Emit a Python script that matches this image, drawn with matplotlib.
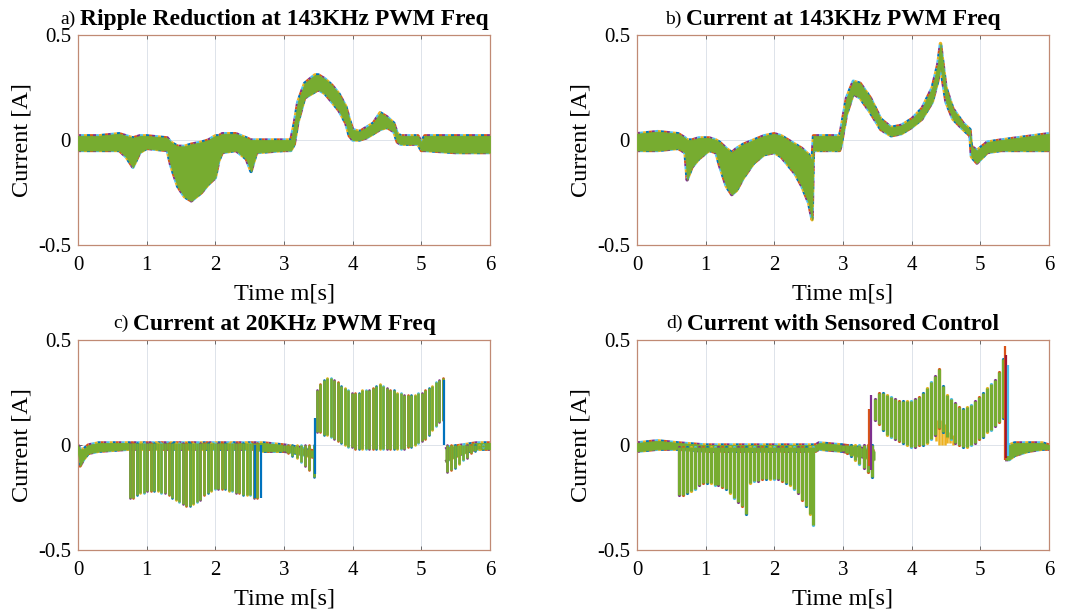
import numpy as np
import matplotlib
matplotlib.use("Agg")
import matplotlib.pyplot as plt

plt.rcParams['font.family'] = ['Liberation Serif', 'DejaVu Serif']

# MATLAB default line colours
BLUE = '#0072BD'
ORANGE = '#D95319'
YELLOW = '#EDB120'
PURPLE = '#7E2F8E'
GREEN = '#77AC30'
LBLUE = '#4DBEEE'
RED = '#A2142F'
FRINGE = [PURPLE, ORANGE, BLUE, YELLOW, LBLUE]

prefixes = ['a)', 'b)', 'c)', 'd)']
titles = ['Ripple Reduction at 143KHz PWM Freq', 'Current at 143KHz PWM Freq',
          'Current at 20KHz PWM Freq', 'Current with Sensored Control']
x_ticks = [0, 1, 2, 3, 4, 5, 6]
y_ticks = [-0.5, 0, 0.5]
y_tick_labels = ['-0.5', '0', '0.5']

# ---- panel a : envelope of the overlaid traces ----
a_t = [0, 0.3, 0.6, 0.7, 0.8, 0.9, 1.0, 1.3, 1.35, 1.45, 1.55, 1.65, 1.8, 1.9, 2.0, 2.05,
       2.1, 2.3, 2.45, 2.52, 2.6, 3.0, 3.1, 3.15, 3.2, 3.3, 3.45, 3.5, 3.6, 3.7, 3.8, 3.9,
       3.95, 4.0, 4.1, 4.2, 4.3, 4.4, 4.5, 4.6, 4.65, 4.7, 4.95, 5.0, 5.05, 5.5, 6.0]
a_hi = [0.02, 0.02, 0.03, 0.02, 0.01, 0.02, 0.02, 0.01, -0.01, -0.03, -0.03, -0.02, -0.01, 0.0,
        0.02, 0.02, 0.03, 0.03, 0.01, 0.0, 0.0, 0.0, 0.0, 0.08, 0.18, 0.27, 0.31, 0.31, 0.29,
        0.26, 0.22, 0.16, 0.10, 0.05, 0.04, 0.06, 0.08, 0.13, 0.11, 0.08, 0.03, 0.02, 0.02,
        -0.01, 0.02, 0.02, 0.02]
a_lo = [-0.05, -0.05, -0.05, -0.08, -0.13, -0.06, -0.04, -0.05, -0.12, -0.22, -0.27, -0.29,
        -0.25, -0.21, -0.18, -0.10, -0.06, -0.05, -0.09, -0.15, -0.06, -0.05, -0.05, -0.02,
        0.08, 0.20, 0.23, 0.24, 0.22, 0.18, 0.14, 0.08, 0.02, 0.0, 0.0, 0.01, 0.03, 0.05,
        0.06, 0.04, -0.01, -0.02, -0.02, -0.05, -0.05, -0.06, -0.06]

# ---- panel b ----
b_t = [0, 0.3, 0.6, 0.7, 0.73, 0.8, 0.9, 1.05, 1.15, 1.2, 1.3, 1.38, 1.45, 1.55, 1.7, 1.85,
       2.0, 2.1, 2.2, 2.3, 2.4, 2.5, 2.55, 2.57, 2.65, 2.95, 2.97, 3.05, 3.15, 3.25, 3.4,
       3.55, 3.7, 3.85, 4.0, 4.15, 4.3, 4.38, 4.42, 4.5, 4.6, 4.75, 4.85, 4.87, 4.95, 5.1,
       5.3, 6.0]
b_hi = [0.03, 0.04, 0.03, 0.01, 0.0, 0.0, 0.01, 0.01, 0.0, -0.01, -0.04, -0.06, -0.04, -0.02,
        0.0, 0.02, 0.03, 0.02, 0.0, -0.02, -0.04, -0.07, -0.10, 0.02, 0.02, 0.02, 0.05, 0.20,
        0.28, 0.27, 0.20, 0.10, 0.06, 0.07, 0.10, 0.15, 0.25, 0.36, 0.46, 0.25, 0.15, 0.08,
        0.05, -0.03, -0.05, -0.01, 0.0, 0.03]
b_lo = [-0.05, -0.05, -0.04, -0.06, -0.19, -0.13, -0.09, -0.05, -0.06, -0.12, -0.22, -0.26,
        -0.24, -0.18, -0.11, -0.07, -0.06, -0.08, -0.12, -0.16, -0.22, -0.30, -0.38, -0.05,
        -0.05, -0.05, -0.03, 0.12, 0.22, 0.20, 0.13, 0.05, 0.02, 0.03, 0.06, 0.10, 0.18,
        0.28, 0.35, 0.18, 0.10, 0.05, 0.02, -0.08, -0.11, -0.06, -0.05, -0.05]

# ---- panel c : 20 kHz ripple ----
c_band1_t = [0, 0.03, 0.08, 0.15, 0.3, 0.75, 1.5, 2.6, 2.7, 3.0, 3.2, 3.45]
c_band1_hi = [0.0, -0.02, -0.02, 0.0, 0.01, 0.01, 0.01, 0.01, 0.01, 0.0, -0.01, -0.03]
c_band1_lo = [-0.04, -0.10, -0.07, -0.04, -0.03, -0.02, -0.02, -0.02, -0.03, -0.03, -0.04, -0.06]
c_band2_t = [5.35, 5.4, 5.6, 5.8, 6.0]
c_band2_hi = [-0.02, -0.01, 0.0, 0.01, 0.01]
c_band2_lo = [-0.08, -0.07, -0.04, -0.02, -0.02]

c_neg_span = (0.75, 2.61)
c_neg_top = 0.01
c_neg_tip = [-0.25, -0.25, -0.24, -0.23, -0.23, -0.22, -0.22, -0.22, -0.22, -0.23,
             -0.23, -0.24, -0.25, -0.26, -0.27, -0.28, -0.29, -0.29, -0.28, -0.27,
             -0.26, -0.24, -0.23, -0.22, -0.21, -0.21, -0.21, -0.21, -0.22, -0.22,
             -0.23, -0.23, -0.24, -0.24, -0.24, -0.25, -0.25]
c_droop_span = (3.0, 3.43)
c_droop_top = 0.0
c_droop_tip = [-0.03, -0.04, -0.05, -0.06, -0.08, -0.10, -0.12, -0.15]
c_pos_span = (3.48, 5.31)
c_pos_hi = [0.26, 0.29, 0.31, 0.32, 0.32, 0.31, 0.30, 0.28, 0.27, 0.26,
            0.25, 0.25, 0.25, 0.26, 0.26, 0.26, 0.27, 0.28, 0.29, 0.28,
            0.27, 0.26, 0.26, 0.25, 0.25, 0.24, 0.24, 0.24, 0.24, 0.25,
            0.25, 0.26, 0.27, 0.28, 0.30, 0.31, 0.32]
c_pos_lo = [0.06, 0.06, 0.05, 0.05, 0.04, 0.03, 0.02, 0.01, 0.0, -0.01,
            -0.01, -0.02, -0.02, -0.02, -0.02, -0.02, -0.02, -0.02, -0.02, -0.02,
            -0.02, -0.02, -0.02, -0.02, -0.02, -0.02, -0.01, -0.01, 0.0, 0.01,
            0.02, 0.03, 0.05, 0.07, 0.09, 0.11, 0.12]
c_decay_span = (5.37, 5.9)
c_decay_top = 0.0
c_decay_tip = [-0.13, -0.12, -0.11, -0.09, -0.07, -0.06, -0.04, -0.03, -0.02, -0.01]
c_extra_t = [2.58, 2.66, 3.45, 5.33]
c_extra_lo = [-0.25, -0.25, -0.14, 0.0]
c_extra_hi = [0.0, 0.0, 0.13, 0.31]

# ---- panel d : sensored control ----
d_band1_t = [0, 0.3, 0.6, 1.0, 2.6, 2.65, 3.0, 3.2, 3.46]
d_band1_hi = [0.01, 0.02, 0.01, 0.0, 0.0, 0.01, 0.0, -0.01, -0.03]
d_band1_lo = [-0.03, -0.02, -0.02, -0.03, -0.03, -0.02, -0.03, -0.05, -0.07]
d_band2_t = [5.36, 5.42, 5.5, 5.7, 5.9, 6.0]
d_band2_hi = [-0.01, 0.0, 0.01, 0.01, 0.01, 0.0]
d_band2_lo = [-0.07, -0.07, -0.05, -0.03, -0.02, -0.02]

d_neg_span = (0.61, 2.57)
d_neg_top = -0.01
d_neg_tip = [-0.24, -0.24, -0.23, -0.22, -0.21, -0.19, -0.18, -0.18, -0.18, -0.19, -0.19,
             -0.20, -0.21, -0.23, -0.25, -0.27, -0.29, -0.33, -0.18, -0.17, -0.17, -0.16,
             -0.16, -0.16, -0.16, -0.16, -0.17, -0.18, -0.19, -0.21, -0.23, -0.26, -0.29,
             -0.33, -0.38]
d_droop_span = (3.0, 3.42)
d_droop_top = 0.0
d_droop_tip = [-0.03, -0.04, -0.05, -0.07, -0.09, -0.11, -0.13, -0.15]
d_pos_span = (3.47, 5.33)
d_pos_hi = [0.22, 0.25, 0.25, 0.24, 0.23, 0.22, 0.21, 0.21, 0.21, 0.21, 0.22, 0.23, 0.25,
            0.27, 0.30, 0.33, 0.36, 0.28, 0.24, 0.22, 0.20, 0.18, 0.17, 0.18, 0.19, 0.21,
            0.23, 0.25, 0.27, 0.29, 0.31, 0.35, 0.41]
d_pos_lo = [0.12, 0.10, 0.07, 0.05, 0.04, 0.03, 0.02, 0.01, 0.0, -0.01, -0.01, 0.0, 0.0,
            0.01, 0.03, 0.05, 0.08, 0.06, 0.04, 0.03, 0.01, 0.0, -0.01, -0.01, 0.0, 0.01,
            0.03, 0.04, 0.06, 0.07, 0.09, 0.11, 0.13]
d_extra_t = [3.38, 3.41, 5.36, 5.38, 5.40]
d_extra_lo = [-0.10, -0.12, -0.07, -0.06, -0.05]
d_extra_hi = [0.17, 0.24, 0.47, 0.43, 0.38]
d_yellow_t = [4.36, 4.40, 4.44, 4.48, 4.52, 4.56, 4.60]
d_yellow_lo = [0.02, 0.0, 0.0, 0.0, 0.01, 0.01, 0.0]
d_yellow_hi = [0.12, 0.15, 0.12, 0.10, 0.08, 0.06, 0.05]


def draw_band(ax, t, hi, lo):
    # coloured fringes of the underlying traces, green trace on top
    for i, c in enumerate(FRINGE):
        for y in (hi, lo):
            ax.plot(t, y, color=c, lw=2.4, linestyle=(i * 0.9, (0.9, 3.6)),
                    dash_capstyle='butt', zorder=2)
    ax.fill_between(t, lo, hi, color=GREEN, lw=0.6, edgecolor=GREEN, zorder=3)


def draw_teeth(ax, span, lo, hi, lw=1.9):
    n = len(lo) if np.ndim(lo) else len(hi)
    t = np.linspace(span[0], span[1], n)
    lo = np.broadcast_to(lo, t.shape)
    hi = np.broadcast_to(hi, t.shape)
    cols = [FRINGE[i % len(FRINGE)] for i in range(n)]
    under = ax.vlines(t, lo, hi, colors=cols, lw=lw, zorder=4)
    under.set_capstyle('round')
    top = ax.vlines(t, lo, hi, colors=GREEN, lw=lw, zorder=5)
    top.set_capstyle('butt')


def style_axes(ax, prefix, title):
    ax.set_xlim(0, 6)
    ax.set_ylim(-0.5, 0.5)
    ax.set_xticks(x_ticks)
    ax.set_yticks(y_ticks)
    ax.set_yticklabels(y_tick_labels)
    ax.grid(True, color='#dde3ea', lw=0.7)
    ax.set_axisbelow(True)
    ax.tick_params(direction='in', length=3, width=0.6, labelsize=15, pad=5,
                   top=True, right=True, color='#555555')
    ax.tick_params(axis='x', pad=8)
    for s in ax.spines.values():
        s.set_color('#c08a74')
        s.set_linewidth(0.9)
    ax.set_xlabel('Time m[s]', fontsize=17.5, labelpad=6)
    ax.set_ylabel('Current [A]', fontsize=17.5, labelpad=4)
    t = ax.set_title(title, fontsize=16.9, fontweight='bold', pad=7)
    ax.annotate(prefix, xy=(0, 0), xycoords=t, xytext=(-3, 2), textcoords='offset points',
                ha='right', va='bottom', fontsize=14)


fig = plt.figure(figsize=(10.77, 6.14), dpi=100)
W, H = 1077, 614
axw, axh = 412 / W, 210 / H
ax_a = fig.add_axes([78 / W, 1 - 245 / H, axw, axh])
ax_b = fig.add_axes([637 / W, 1 - 245 / H, axw, axh])
ax_c = fig.add_axes([78 / W, 1 - 550 / H, axw, axh])
ax_d = fig.add_axes([637 / W, 1 - 550 / H, axw, axh])

draw_band(ax_a, a_t, a_hi, a_lo)
draw_band(ax_b, b_t, b_hi, b_lo)

draw_band(ax_c, c_band1_t, c_band1_hi, c_band1_lo)
draw_band(ax_c, c_band2_t, c_band2_hi, c_band2_lo)
draw_teeth(ax_c, c_neg_span, c_neg_tip, c_neg_top)
draw_teeth(ax_c, c_droop_span, c_droop_tip, c_droop_top)
draw_teeth(ax_c, c_pos_span, c_pos_lo, c_pos_hi)
draw_teeth(ax_c, c_decay_span, c_decay_tip, c_decay_top)
ax_c.vlines(c_extra_t, c_extra_lo, c_extra_hi, colors=BLUE, lw=1.6, zorder=6)

draw_band(ax_d, d_band1_t, d_band1_hi, d_band1_lo)
draw_band(ax_d, d_band2_t, d_band2_hi, d_band2_lo)
ax_d.vlines(d_yellow_t, d_yellow_lo, d_yellow_hi, colors=YELLOW, lw=1.8, zorder=4)
draw_teeth(ax_d, d_neg_span, d_neg_tip, d_neg_top, lw=2.3)
draw_teeth(ax_d, d_droop_span, d_droop_tip, d_droop_top, lw=2.3)
draw_teeth(ax_d, d_pos_span, d_pos_lo, d_pos_hi, lw=2.3)
ax_d.vlines(d_extra_t, d_extra_lo, d_extra_hi,
            colors=[ORANGE, PURPLE, ORANGE, RED, LBLUE], lw=1.6, zorder=6)

for ax, p, ttl in zip([ax_a, ax_b, ax_c, ax_d], prefixes, titles):
    style_axes(ax, p, ttl)

fig.savefig('out.png', dpi=100)
